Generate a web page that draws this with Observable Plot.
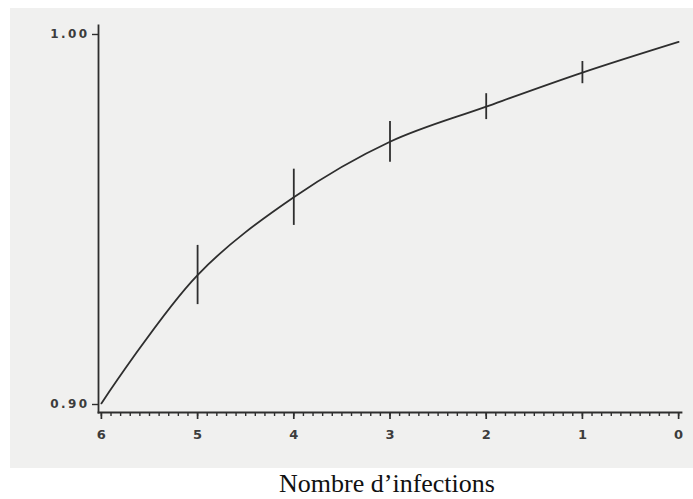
<!DOCTYPE html>
<html>
<head>
<meta charset="utf-8">
<script src="https://cdn.jsdelivr.net/npm/d3@7"></script>
<script src="https://cdn.jsdelivr.net/npm/@observablehq/plot@0.6"></script>
<style>
  html, body { margin: 0; padding: 0; background: #ffffff; }
  #wrap { position: relative; width: 693px; height: 499px; overflow: hidden; }
  #panel { position: absolute; left: 10px; top: 8px; width: 683px; height: 460px; background: #f0f0ef; }
  #caption { position: absolute; left: 0; width: 774px; top: 468px; text-align: center;
    font-family: "Liberation Serif", "DejaVu Serif", serif; font-size: 26px; line-height: 31px; color: #111; }
  #panel svg text { font-family: "DejaVu Sans", sans-serif !important; font-weight: bold !important; }
  #panel svg g[aria-label="y-axis tick label"] text { font-size: 12px !important; letter-spacing: 2.4px; }
  #panel svg g[aria-label="x-axis tick label"] text { font-size: 13px !important; }
</style>
</head>
<body>
<div id="wrap">
  <div id="panel"></div>
  <div id="caption">Nombre d’infections</div>
</div>
<script>
// Data
const infections = [6, 5, 4, 3, 2, 1, 0];
const values     = [0.9003, 0.935, 0.956, 0.971, 0.9805, 0.9897, 0.998];
const errors     = [0, 0.008, 0.0076, 0.0055, 0.0035, 0.003, 0];
const xTicks = [6, 5, 4, 3, 2, 1, 0];
const yTicks = [0.90, 1.00];
const captionText = "Nombre d’infections";

const data = infections.map((x, i) => ({x, y: values[i], e: errors[i]}));
const bars = data.filter(d => d.e > 0);
const minorTicks = d3.range(0, 60.5, 1).map(k => k / 10);

const ink = "#2e2e2e";
const chart = Plot.plot({
  width: 683,
  height: 460,
  marginLeft: 88,
  marginRight: 12,
  marginTop: 17,
  marginBottom: 56,
  style: {background: "transparent", color: "#444"},
  x: {domain: [6.03, -0.03]},
  y: {domain: [0.89784, 1.00243]},
  marks: [
    Plot.frame({anchor: "left", stroke: ink, strokeWidth: 1.8}),
    Plot.frame({anchor: "bottom", stroke: ink, strokeWidth: 1.8}),
    Plot.axisY({ticks: yTicks, tickFormat: d3.format(".2f"), tickSize: 6, tickPadding: 3,
      stroke: ink, strokeWidth: 1.4, fill: "#3c3c3c", label: null}),
    Plot.axisX({ticks: minorTicks, tickSize: 4, stroke: ink, strokeWidth: 1.4, text: null, label: null}),
    Plot.axisX({ticks: xTicks, tickFormat: d => String(d), tickSize: 7, tickPadding: 10,
      stroke: ink, strokeWidth: 1.7, fill: "#3c3c3c", label: null}),
    Plot.line(data, {x: "x", y: "y", curve: "catmull-rom", stroke: ink, strokeWidth: 1.8}),
    Plot.ruleX(bars, {x: "x", y1: d => d.y - d.e, y2: d => d.y + d.e, stroke: ink, strokeWidth: 1.8})
  ]
});
chart.style.position = "absolute";
chart.style.left = "0px";
chart.style.top = "0px";
document.getElementById("panel").appendChild(chart);
document.getElementById("caption").textContent = captionText;
</script>
</body>
</html>
